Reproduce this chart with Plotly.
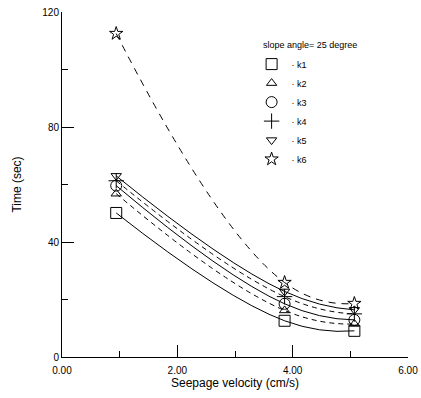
import plotly.graph_objects as go

# ---- data ----
velocity = [0.94, 3.86, 5.07]          # seepage velocity (cm/s)
series_names = ["k1", "k2", "k3", "k4", "k5", "k6"]
k1 = [50.1, 12.6, 9.1]
k2 = [56.8, 16.2, 11.5]
k3 = [59.6, 18.5, 12.9]
k4 = [61.3, 21.0, 15.0]
k5 = [63.0, 22.8, 16.4]
k6 = [112.5, 25.9, 18.6]
x_tick_vals = [0, 2, 4, 6]
y_tick_vals = [0, 40, 80, 120]
legend_title = "slope angle= 25 degree"

series = [k1, k2, k3, k4, k5, k6]
symbols = ["square-open", "triangle-up-open", "circle-open", "cross-thin-open",
           "triangle-down-open", "star-open"]
sizes = [11, 9, 11, 11, 9, 10]
dashes = ["solid", "5px,4px", "solid", "5px,4px", "solid", "7px,6px"]

FONT = "Arial, Liberation Sans, Helvetica, sans-serif"

fig = go.Figure()

# fitted curves (smooth lines through the points)
for vals, dash in zip(series, dashes):
    fig.add_trace(go.Scatter(
        x=velocity, y=vals, mode="lines",
        line=dict(color="black", width=1, dash=dash, shape="spline", smoothing=1.3),
        showlegend=False, hoverinfo="skip"))

# markers
for name, vals, sym, sz in zip(series_names, series, symbols, sizes):
    fig.add_trace(go.Scatter(
        x=velocity, y=vals, mode="markers", name="\u00b7 " + name,
        marker=dict(symbol=sym, size=sz, color="black",
                    line=dict(color="black", width=1))))

fig.add_annotation(
    text=legend_title, xref="paper", yref="paper",
    x=0.575, y=0.904, xanchor="left", yanchor="middle",
    showarrow=False, font=dict(family=FONT, size=9, color="black"))

fig.update_layout(
    width=421, height=398,
    margin=dict(l=62, r=13, t=12, b=41),
    paper_bgcolor="white", plot_bgcolor="white",
    font=dict(family=FONT, size=10, color="black"),
    legend=dict(x=0.548, y=0.891, xanchor="left", yanchor="top",
                bgcolor="rgba(0,0,0,0)", font=dict(family=FONT, size=9, color="black"),
                tracegroupgap=0),
    xaxis=dict(
        range=[0, 6], tickvals=x_tick_vals, tickformat=".2f",
        ticks="inside", ticklen=12, tickcolor="black", tickwidth=1,
        minor=dict(ticks="inside", ticklen=6, dtick=1, tickcolor="black", showgrid=False),
        showline=True, linecolor="black", linewidth=1,
        showgrid=False, zeroline=False, automargin=False,
        ticklabelstandoff=4, ticklabeloverflow="allow",
        title=dict(text="Seepage velocity (cm/s)", font=dict(size=12), standoff=0),
        tickfont=dict(size=10)),
    yaxis=dict(
        range=[0, 120], tickvals=y_tick_vals,
        ticks="inside", ticklen=12, tickcolor="black", tickwidth=1,
        minor=dict(ticks="inside", ticklen=6, dtick=20, tickcolor="black", showgrid=False),
        showline=True, linecolor="black", linewidth=1,
        showgrid=False, zeroline=False, automargin=False,
        ticklabeloverflow="allow",
        title=dict(text="Time (sec)", font=dict(size=12), standoff=18),
        tickfont=dict(size=10)),
)

# remove the default page margin so the 421x398 figure fills the window
fig.write_html(
    "out.html",
    config={"displayModeBar": False},
    post_script="document.body.style.margin='0';"
                "document.documentElement.style.overflow='hidden';")
